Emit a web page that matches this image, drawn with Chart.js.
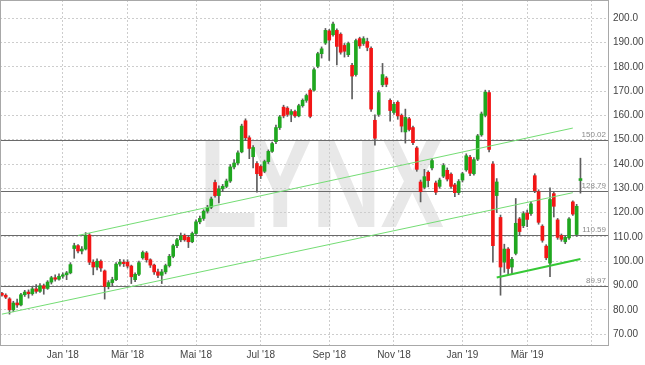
<!DOCTYPE html>
<html>
<head>
<meta charset="utf-8">
<script src="https://cdn.jsdelivr.net/npm/chart.js@4.4.1/dist/chart.umd.min.js"></script>
<style>
  html, body { margin: 0; padding: 0; background: #fff; }
  #wrap { width: 645px; height: 365px; position: relative; }
</style>
</head>
<body>
<div id="wrap"><canvas id="chart"></canvas></div>
<script>
// half-week candles (Mon / Thu)
const dates = [
  '2017-11-06','2017-11-09','2017-11-13','2017-11-16','2017-11-20','2017-11-23','2017-11-27','2017-11-30',
  '2017-12-04','2017-12-07','2017-12-11','2017-12-14','2017-12-18','2017-12-21','2017-12-25','2017-12-28',
  '2018-01-01','2018-01-04','2018-01-08','2018-01-11','2018-01-15','2018-01-18','2018-01-22','2018-01-25','2018-01-29','2018-02-01',
  '2018-02-05','2018-02-08','2018-02-12','2018-02-15','2018-02-19','2018-02-22','2018-02-26','2018-03-01',
  '2018-03-05','2018-03-08','2018-03-12','2018-03-15','2018-03-19','2018-03-22','2018-03-26','2018-03-29',
  '2018-04-02','2018-04-05','2018-04-09','2018-04-12','2018-04-16','2018-04-19','2018-04-23','2018-04-26','2018-04-30','2018-05-03',
  '2018-05-07','2018-05-10','2018-05-14','2018-05-17','2018-05-21','2018-05-24','2018-05-28','2018-05-31',
  '2018-06-04','2018-06-07','2018-06-11','2018-06-14','2018-06-18','2018-06-21','2018-06-25','2018-06-28',
  '2018-07-02','2018-07-05','2018-07-09','2018-07-12','2018-07-16','2018-07-19','2018-07-23','2018-07-26','2018-07-30','2018-08-02',
  '2018-08-06','2018-08-09','2018-08-13','2018-08-16','2018-08-20','2018-08-23','2018-08-27','2018-08-30',
  '2018-09-03','2018-09-06','2018-09-10','2018-09-13','2018-09-17','2018-09-20','2018-09-24','2018-09-27',
  '2018-10-01','2018-10-04','2018-10-08','2018-10-11','2018-10-15','2018-10-18','2018-10-22','2018-10-25','2018-10-29','2018-11-01',
  '2018-11-05','2018-11-08','2018-11-12','2018-11-15','2018-11-19','2018-11-22','2018-11-26','2018-11-29',
  '2018-12-03','2018-12-06','2018-12-10','2018-12-13','2018-12-17','2018-12-20','2018-12-24','2018-12-27','2018-12-31','2019-01-03',
  '2019-01-07','2019-01-10','2019-01-14','2019-01-17','2019-01-21','2019-01-24','2019-01-28','2019-01-31',
  '2019-02-04','2019-02-07','2019-02-11','2019-02-14','2019-02-18','2019-02-21','2019-02-25','2019-02-28',
  '2019-03-04','2019-03-07','2019-03-11','2019-03-14','2019-03-18','2019-03-21','2019-03-25','2019-03-28',
  '2019-04-01','2019-04-04','2019-04-08','2019-04-11','2019-04-15','2019-04-18','2019-04-22','2019-04-25','2019-04-29','2019-05-02',
  '2019-05-06','2019-05-09','2019-05-13','2019-05-16'
];

const opens = [
  86.8, 86.0, 84.5, 80.0, 82.8, 82.0, 86.2, 87.3, 86.6, 88.6,
  87.6, 89.9, 88.8, 91.4, 93.2, 92.6, 93.8, 94.4, 95.2, 105.2,
  106.4, 104.2, 105.0, 110.8, 99.6, 97.6, 100.0, 96.0, 89.6, 91.2,
  92.4, 98.8, 99.6, 99.6, 98.0, 92.4, 94.6, 101.4, 103.4, 100.6,
  98.4, 95.6, 94.2, 95.6, 98.2, 102.0, 106.4, 108.8, 110.6, 109.8,
  108.0, 111.4, 116.2, 117.6, 120.6, 122.2, 132.4, 127.0, 129.8, 130.8,
  133.0, 138.8, 140.4, 145.0, 157.8, 150.8, 143.0, 140.2, 139.0, 137.0,
  141.0, 145.2, 149.2, 155.0, 163.4, 163.0, 160.4, 161.6, 159.8, 164.0,
  166.2, 170.4, 170.4, 180.2, 185.4, 189.8, 194.8, 193.2, 195.0, 193.4,
  188.8, 185.0, 180.6, 176.8, 191.6, 189.6, 190.4, 187.6, 158.0, 160.4,
  172.6, 175.4, 166.2, 161.2, 165.4, 160.0, 153.2, 158.6, 155.0, 146.6,
  132.6, 130.4, 136.6, 138.4, 132.2, 130.8, 135.0, 137.4, 135.8, 131.4,
  128.2, 133.4, 137.6, 142.8, 136.0, 142.0, 152.0, 160.0, 169.4, 140.0,
  127.0, 118.0, 99.6, 105.0, 97.6, 103.2, 117.4, 114.6, 119.8, 119.6,
  135.2, 128.6, 114.4, 106.2, 99.2, 127.8, 117.0, 110.6, 108.0, 109.6,
  124.4, 111.0, 133.2
];
const highs = [
  87.2, 86.6, 85.0, 83.5, 84.4, 86.8, 88.0, 88.2, 89.5, 90.4,
  90.8, 90.6, 92.0, 93.8, 94.4, 94.8, 95.2, 95.8, 99.4, 107.4,
  106.8, 106.0, 111.8, 111.4, 100.6, 101.0, 100.6, 96.4, 92.0, 93.4,
  99.4, 100.8, 100.6, 100.6, 98.4, 95.2, 100.0, 104.2, 104.0, 101.0,
  98.8, 96.8, 96.6, 98.8, 102.8, 107.0, 109.4, 111.6, 111.2, 110.6,
  112.0, 117.0, 118.6, 121.2, 123.0, 126.4, 133.4, 131.0, 131.6, 133.8,
  139.8, 141.8, 145.4, 156.4, 158.6, 151.6, 147.6, 141.0, 139.6, 141.6,
  145.8, 149.0, 156.0, 160.0, 164.2, 163.6, 162.4, 162.2, 164.6, 166.8,
  168.8, 171.0, 179.6, 186.0, 188.2, 195.8, 195.4, 198.4, 195.6, 194.0,
  189.6, 190.2, 181.4, 191.4, 192.2, 192.4, 191.8, 188.2, 160.2, 170.2,
  181.4, 176.0, 166.8, 165.4, 166.0, 160.6, 162.6, 159.2, 155.6, 147.2,
  133.4, 137.8, 137.2, 142.0, 133.0, 134.2, 140.2, 138.4, 136.4, 132.0,
  133.6, 136.6, 144.2, 143.6, 142.6, 152.2, 161.4, 170.4, 170.2, 141.0,
  134.0, 119.0, 107.0, 105.6, 101.6, 125.8, 118.0, 120.4, 121.0, 124.4,
  136.0, 129.4, 115.0, 106.8, 130.2, 128.4, 117.6, 111.2, 110.6, 118.0,
  124.8, 123.4, 142.4
];
const lows = [
  85.6, 84.6, 78.2, 79.2, 81.0, 81.6, 85.5, 84.8, 86.0, 86.8,
  87.2, 86.4, 88.4, 90.6, 91.8, 92.2, 93.0, 92.4, 94.8, 101.2,
  103.4, 103.0, 104.6, 98.6, 94.4, 96.4, 95.8, 84.4, 88.6, 89.8,
  92.0, 98.0, 97.8, 97.2, 90.8, 91.6, 94.0, 100.8, 99.6, 97.4,
  94.6, 93.2, 90.8, 94.8, 97.6, 101.4, 105.6, 108.0, 108.2, 105.6,
  107.6, 111.0, 115.4, 116.8, 119.8, 121.6, 126.4, 124.0, 128.6, 130.2,
  132.4, 138.0, 139.6, 144.6, 149.6, 142.2, 138.4, 128.4, 134.0, 136.4,
  140.2, 144.8, 148.4, 154.2, 159.0, 159.6, 157.4, 159.2, 159.4, 163.4,
  165.4, 159.0, 170.0, 179.6, 183.6, 189.2, 182.6, 192.6, 180.8, 185.2,
  184.0, 184.2, 166.8, 176.2, 187.6, 188.8, 186.6, 161.6, 147.8, 159.6,
  171.8, 171.8, 157.6, 160.4, 158.4, 153.2, 148.6, 153.6, 148.0, 137.0,
  124.4, 129.8, 130.6, 137.6, 127.4, 130.0, 134.4, 133.0, 130.0, 126.6,
  127.4, 132.6, 137.0, 135.2, 135.4, 141.4, 151.4, 159.4, 145.0, 99.6,
  120.0, 86.0, 95.4, 94.6, 95.0, 102.6, 110.6, 113.8, 114.2, 118.8,
  128.2, 115.2, 107.8, 100.6, 93.6, 118.2, 109.0, 108.2, 107.2, 109.0,
  118.8, 110.2, 128.0
];
const closes = [
  86.0, 85.2, 80.0, 82.8, 82.0, 86.2, 87.3, 86.6, 88.6, 87.6,
  89.9, 88.8, 91.4, 93.2, 92.6, 93.8, 94.4, 95.2, 98.6, 106.4,
  104.2, 105.0, 110.6, 99.6, 97.6, 100.0, 97.2, 89.6, 91.2, 92.4,
  98.8, 99.6, 99.0, 98.0, 93.6, 94.6, 99.4, 103.6, 100.6, 98.4,
  95.6, 94.2, 95.6, 98.2, 102.0, 106.4, 108.8, 110.4, 108.8, 108.0,
  111.4, 116.2, 117.6, 120.6, 122.2, 125.6, 127.0, 129.8, 130.8, 133.0,
  138.8, 140.4, 144.6, 155.6, 150.8, 146.4, 146.8, 136.0, 135.2, 141.0,
  145.2, 148.4, 155.0, 159.4, 159.8, 160.4, 161.6, 159.8, 164.0, 166.2,
  168.2, 159.6, 178.8, 185.4, 187.4, 195.0, 191.0, 197.6, 188.4, 186.0,
  186.4, 189.6, 176.2, 190.8, 188.6, 191.6, 188.0, 162.6, 150.6, 169.4,
  176.8, 172.8, 162.0, 164.6, 159.8, 155.6, 159.2, 154.2, 148.8, 137.8,
  128.6, 134.8, 133.2, 141.4, 128.4, 133.4, 139.4, 133.8, 130.8, 128.2,
  132.8, 136.0, 143.4, 136.2, 141.8, 151.6, 160.6, 169.6, 146.0, 106.4,
  132.6, 97.6, 105.0, 97.0, 100.8, 115.6, 112.2, 119.6, 117.2, 123.6,
  129.0, 116.0, 108.6, 101.4, 125.4, 122.6, 109.8, 109.0, 109.8, 117.4,
  119.4, 122.6, 134.0
];

// horizontal support / resistance levels
const levels = [150.02, 128.79, 110.59, 89.97];

// trend lines: [date, value] endpoints
const upperTrend = [['2018-01-15', 110.6], ['2019-04-15', 154.8]];
const lowerTrend = [['2017-11-06', 78.2], ['2019-04-15', 128.2]];
const supportTrend = [['2019-02-04', 93.3], ['2019-04-22', 100.9]];

const monthNames = ['Jan','Feb','Mär','Apr','Mai','Jun','Jul','Aug','Sep','Okt','Nov','Dez'];
const UP = '#1fa71f', DOWN = '#f21616', WICK = '#5e5e5e';
const FONT = '"Liberation Sans", Arial, sans-serif';

Chart.defaults.font.family = FONT;

const toPoints = (line) => line.map(p => ({ x: p[0], y: p[1] }));

// background + LYNX watermark
const watermark = {
  id: 'watermark',
  beforeDraw(chart) {
    const { ctx, chartArea: a } = chart;
    ctx.save();
    ctx.fillStyle = '#fff';
    ctx.fillRect(0, 0, chart.width, chart.height);
    ctx.font = 'bold 126px ' + FONT;
    const w = ctx.measureText('LYNX').width;
    ctx.translate(a.left + a.width * 0.327, a.top + a.height * 0.656);
    ctx.scale((a.width * 0.402) / w, 1);
    ctx.fillStyle = '#e8e8e8';
    ctx.textBaseline = 'alphabetic';
    ctx.fillText('LYNX', 0, 0);
    ctx.restore();
  }
};

// level lines with value tags
const levelLines = {
  id: 'levelLines',
  beforeDatasetsDraw(chart) {
    const { ctx, chartArea: a, scales: { y } } = chart;
    ctx.save();
    ctx.strokeStyle = '#6a6a6a';
    ctx.lineWidth = 1.2;
    ctx.font = '8px ' + FONT;
    ctx.fillStyle = '#8a8a8a';
    ctx.textAlign = 'right';
    ctx.textBaseline = 'bottom';
    levels.forEach(v => {
      const py = Math.round(y.getPixelForValue(v)) + 0.5;
      ctx.beginPath();
      ctx.moveTo(a.left, py);
      ctx.lineTo(a.right, py);
      ctx.stroke();
      ctx.fillText(v.toFixed(2), a.right - 3, py - 1.5);
    });
    ctx.restore();
  }
};

// plot frame
const frame = {
  id: 'frame',
  afterDraw(chart) {
    const { ctx, chartArea: a } = chart;
    ctx.save();
    ctx.strokeStyle = '#a8a8a8';
    ctx.lineWidth = 1;
    ctx.strokeRect(a.left + 0.5, a.top + 0.5, a.width - 1, a.height - 1);
    ctx.restore();
  }
};

new Chart(document.getElementById('chart').getContext('2d'), {
  type: 'bar',
  data: {
    labels: dates,
    datasets: [
      {
        type: 'line', data: toPoints(upperTrend), borderColor: '#74dd74', borderWidth: 1,
        pointRadius: 0, order: 1
      },
      {
        type: 'line', data: toPoints(lowerTrend), borderColor: '#74dd74', borderWidth: 1,
        pointRadius: 0, order: 1
      },
      {
        type: 'line', data: toPoints(supportTrend), borderColor: '#36c936', borderWidth: 2,
        pointRadius: 0, order: 1
      },
      {
        label: 'body',
        data: opens.map((o, i) => [o, closes[i]]),
        backgroundColor: opens.map((o, i) => closes[i] >= o ? UP : DOWN),
        barThickness: 3, grouped: false, minBarLength: 1, order: 2
      },
      {
        label: 'wick',
        data: lows.map((l, i) => [l, highs[i]]),
        backgroundColor: WICK,
        barThickness: 1, grouped: false, order: 3
      }
    ]
  },
  options: {
    responsive: true,
    maintainAspectRatio: false,
    animation: false,
    events: [],
    layout: { padding: 0 },
    plugins: { legend: { display: false }, tooltip: { enabled: false } },
    scales: {
      x: {
        offset: true,
        grid: { offset: false, color: '#cdcdcd', drawTicks: false },
        border: { display: false, dash: [2, 2] },
        ticks: {
          autoSkip: false, maxRotation: 0, padding: 3, color: '#444', font: { size: 10 },
          callback: function (value, index, ticks) {
            if (index === ticks.length - 1) return '';
            const d = dates[value];
            return monthNames[+d.slice(5, 7) - 1] + " '" + d.slice(2, 4);
          }
        },
        afterBuildTicks: function (scale) {
          const t = [];
          for (let i = 1; i < dates.length; i++) {
            const m = +dates[i].slice(5, 7);
            if (m !== +dates[i - 1].slice(5, 7) && m % 2 === 1) t.push({ value: i });
          }
          scale.ticks = t;
        },
        afterFit: function (s) { s.height = 19; s.paddingLeft = 0; s.paddingRight = 0; }
      },
      y: {
        position: 'right',
        min: 65.1,
        max: 207.5,
        grid: { color: '#cdcdcd', drawTicks: false },
        border: { display: false, dash: [2, 2] },
        ticks: {
          stepSize: 10, includeBounds: false, padding: 4, color: '#444', font: { size: 10 },
          callback: v => v === 200 ? '200.0' : v.toFixed(2)
        },
        afterFit: function (s) { s.width = 36; s.paddingTop = 0; s.paddingBottom = 0; }
      }
    }
  },
  plugins: [watermark, levelLines, frame]
});
</script>
</body>
</html>
